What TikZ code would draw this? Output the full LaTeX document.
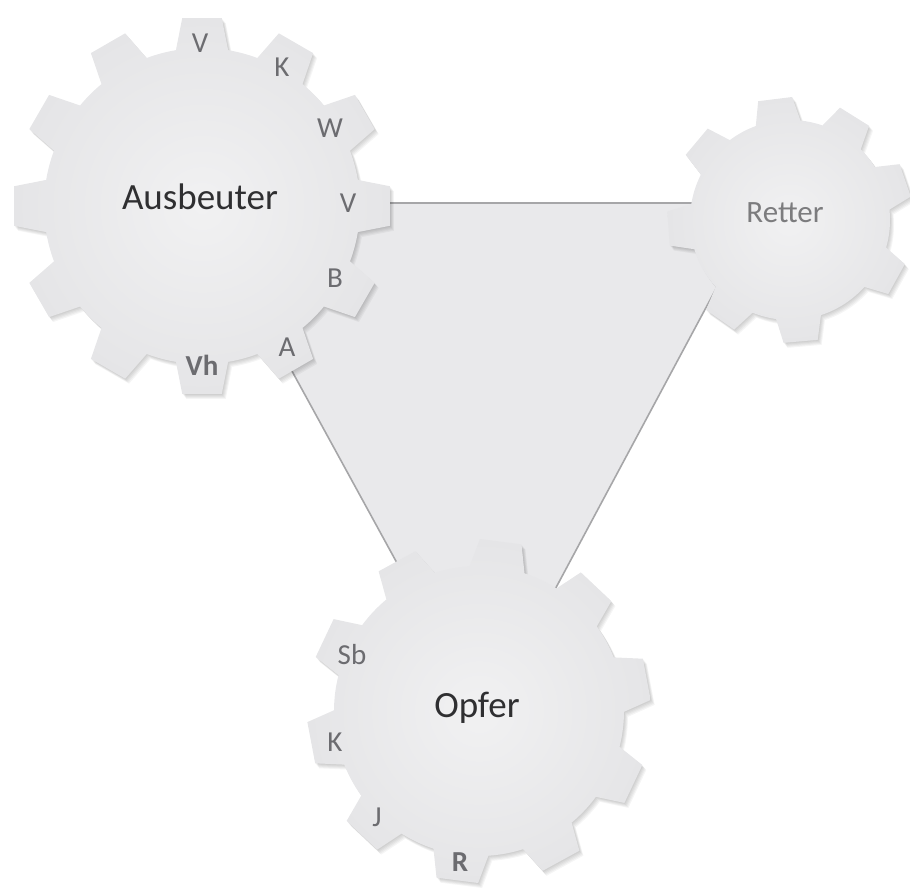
\documentclass[tikz,border=0pt]{standalone}
\usepackage{fontspec}
\setmainfont{Carlito}
\definecolor{gearin}{HTML}{F1F1F2}
\definecolor{gearout}{HTML}{E5E5E7}
\definecolor{trifill}{HTML}{E9E9EB}
\definecolor{triline}{HTML}{A6A6A8}
\definecolor{titledark}{HTML}{2F2F31}
\definecolor{titlegray}{HTML}{7C7C7E}
\definecolor{tagcol}{HTML}{6C6C70}

% Outline of a gear around the origin:
% #1 body radius, #2 tip radius, #3 half angle at the tooth root,
% #4 half angle at the tooth tip, #5 first tooth angle,
% #6 remaining tooth angles in increasing order, ending with #5+360
\newcommand\geartrace[6]{%
  (#5+#3:#1)
  \foreach \ga [remember=\ga as \gp (initially #5)] in {#6} {
    arc[start angle=\gp+#3, end angle=\ga-#3, radius=#1]
    -- (\ga-#4:#2) -- (\ga+#4:#2) -- (\ga+#3:#1)
  } -- cycle}

% Soft shadow plus shaded body of one gear
\newcommand\drawgear[6]{%
  \foreach \k in {1,...,5}{
    \fill[black, opacity=0.04, shift={(0.8*\k pt,-1.0*\k pt)}] \geartrace{#1}{#2}{#3}{#4}{#5}{#6};
  }
  \shade[inner color=gearin, outer color=gearout] \geartrace{#1}{#2}{#3}{#4}{#5}{#6};
}

\begin{document}
\begin{tikzpicture}[x=1pt,y=1pt,
  title/.style={inner sep=0pt, text=titledark, font=\fontsize{37}{40}\selectfont},
  tag/.style={inner sep=0pt, text=tagcol, font=\fontsize{29}{32}\selectfont},
  boldtag/.style={tag, font=\fontsize{29}{32}\selectfont\bfseries},
  tri/.style={fill=trifill, draw=triline, line width=1.6pt, line join=miter}]
\useasboundingbox (0,0) rectangle (910,895);

% corners of the triangle that ties the three gears together
\coordinate (ta) at (200,692);
\coordinate (tr) at (762,692);
\coordinate (to) at (484,173);

% faint shadow of the triangle, then the triangle itself
\foreach \k in {1,...,4}{
  \fill[black, opacity=0.03, shift={(0.8*\k pt,-1.0*\k pt)}] (ta) -- (tr) -- (to) -- cycle;
}
\draw[tri] (ta) -- (tr) -- (to) -- cycle;

% gear: Retter (8 teeth)
\begin{scope}[shift={(790,675)}]
  \drawgear{100pt}{123pt}{13}{8}{-176}{-125,-85,-29,19,58,97,140,184}
\end{scope}

% gear: Opfer (10 teeth)
\begin{scope}[shift={(479,184)}]
  \drawgear{145pt}{172pt}{11}{7}{10.7}{46.7,82.7,118.7,154.7,190.7,226.7,262.7,298.7,334.7,370.7}
\end{scope}

% gear: Ausbeuter (12 teeth)
\begin{scope}[shift={(202,689)}]
  \drawgear{158pt}{189pt}{9.5}{6}{0}{30,60,90,120,150,180,210,240,270,300,330,360}
\end{scope}

% titles
\node[title] (ausbeuter) at (200,698) {Ausbeuter};
\node[title, text=titlegray, font=\fontsize{31}{34}\selectfont] (retter) at (785,682) {Retter};
\node[title] (opfer) at (477,187) {Opfer};

% tags on the Ausbeuter gear
\node[tag] (a1) at (200,852) {V};
\node[tag] (a2) at (282,828) {K};
\node[tag] (a3) at (330,767) {W};
\node[tag] (a4) at (348,692) {V};
\node[tag] (a5) at (335,617) {B};
\node[tag] (a6) at (287,548) {A};
\node[boldtag] (a7) at (202,530) {Vh};

% tags on the Opfer gear
\node[tag] (o1) at (352,240) {Sb};
\node[tag] (o2) at (335,153) {K};
\node[tag] (o3) at (377,78) {J};
\node[boldtag] (o4) at (460,33) {R};
\end{tikzpicture}
\end{document}
